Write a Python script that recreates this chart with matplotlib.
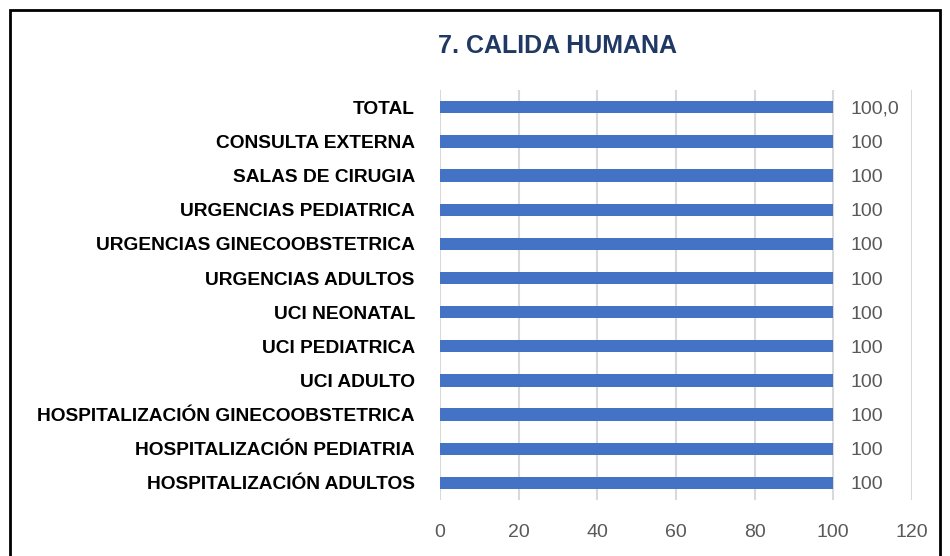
import matplotlib.pyplot as plt
from matplotlib.patches import Rectangle

categorias = [
    "HOSPITALIZACIÓN ADULTOS",
    "HOSPITALIZACIÓN PEDIATRIA",
    "HOSPITALIZACIÓN GINECOOBSTETRICA",
    "UCI ADULTO",
    "UCI PEDIATRICA",
    "UCI NEONATAL",
    "URGENCIAS ADULTOS",
    "URGENCIAS GINECOOBSTETRICA",
    "URGENCIAS PEDIATRICA",
    "SALAS DE CIRUGIA",
    "CONSULTA EXTERNA",
    "TOTAL",
]
valores = [100, 100, 100, 100, 100, 100, 100, 100, 100, 100, 100, 100.0]
etiquetas = ["100"] * 11 + ["100,0"]
ticks_x = [0, 20, 40, 60, 80, 100, 120]

plt.rcParams["font.family"] = ["Liberation Sans", "DejaVu Sans"]

fig = plt.figure(figsize=(9.5, 5.56), dpi=100)
ax = fig.add_axes([0.463, 0.1007, 0.497, 0.737])

pos = range(len(categorias))
ax.barh(pos, valores, height=0.36, color="#4472C4", zorder=3)

# etiquetas de datos
for y, v, t in zip(pos, valores, etiquetas):
    ax.text(v + 4.3, y, t, va="center_baseline", ha="left", fontsize=14,
            color="#595959")

ax.set_xlim(0, 120)
ax.set_ylim(-0.5, len(categorias) - 0.5)
ax.set_xticks(ticks_x)
ax.set_yticks(list(pos))
ax.set_yticklabels(categorias, fontsize=13.8, fontweight="bold", color="black")
ax.tick_params(axis="y", length=0, pad=18)
ax.tick_params(axis="x", length=0, pad=17, labelsize=14, labelcolor="#595959")
ax.grid(axis="x", color="#D9D9D9", linewidth=1.5, zorder=0)
for s in ax.spines.values():
    s.set_visible(False)

fig.text(0.587, 0.917, "7. CALIDA HUMANA", ha="center", va="center",
         fontsize=18, fontweight="bold", color="#1F3864")

# marco del gráfico
fig.patches.append(Rectangle((10 / 950, -0.1), 930 / 950, 1.1 - 10 / 556,
                             transform=fig.transFigure, fill=False,
                             edgecolor="black", linewidth=2))

fig.savefig("out.png", dpi=100)
plt.close()
